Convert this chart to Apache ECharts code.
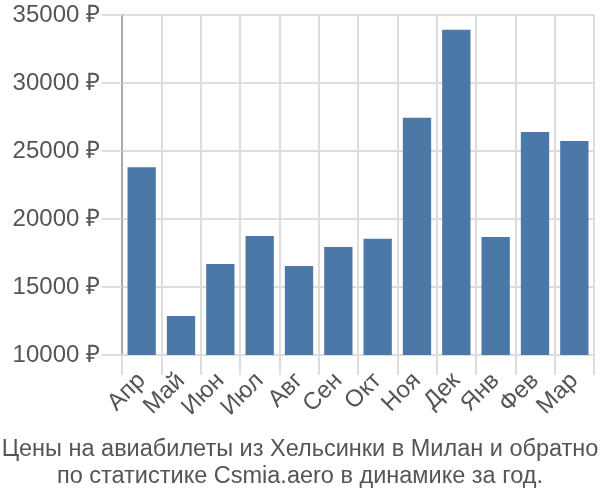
<!DOCTYPE html>
<html><head><meta charset="utf-8">
<script src="https://cdn.jsdelivr.net/npm/echarts@6/dist/echarts.min.js"></script>
<style>html,body{margin:0;padding:0;background:#fff}#c{width:600px;height:500px}</style>
</head><body><div id="c"></div>
<script>
const categories = ["Апр","Май","Июн","Июл","Авг","Сен","Окт","Ноя","Дек","Янв","Фев","Мар"];
const prices = [23800, 12870, 16690, 18750, 16540, 17940, 18550, 27450, 33920, 18680, 26400, 25740];
const yTicks = [10000, 15000, 20000, 25000, 30000, 35000];
const titleLines = ["Цены на авиабилеты из Хельсинки в Милан и обратно", "по статистике Csmia.aero в динамике за год."];

const chart = echarts.init(document.getElementById('c'), null, {renderer: 'canvas'});
chart.setOption({
  animation: false,
  textStyle: {fontFamily: 'Liberation Sans, Arial, sans-serif'},
  title: {
    text: titleLines.join('\n'),
    left: 'center', top: 431,
    textStyle: {fontSize: 23.5, fontWeight: 'normal', color: '#555', lineHeight: 27, fontFamily: 'Liberation Sans, Arial, sans-serif'}
  },
  grid: {left: 122, right: 6, top: 15, bottom: 145, containLabel: false},
  xAxis: {
    type: 'category', data: categories,
    axisLine: {show: true, lineStyle: {color: '#ddd', width: 2}},
    axisTick: {show: true, alignWithLabel: false, length: 20, lineStyle: {color: '#ddd', width: 2}},
    splitLine: {show: true, lineStyle: {color: '#ddd', width: 2}},
    axisLabel: {rotate: 45, interval: 0, fontSize: 24, color: '#555', margin: 22}
  },
  yAxis: {
    type: 'value', min: yTicks[0], max: yTicks[yTicks.length-1], interval: 5000,
    axisLine: {show: true, lineStyle: {color: '#aaa', width: 2}},
    axisTick: {show: true, length: 20, lineStyle: {color: '#ddd', width: 2}},
    splitLine: {show: true, lineStyle: {color: '#ddd', width: 2}},
    axisLabel: {fontSize: 24, color: '#555', margin: 22, formatter: v => v + ' ₽'}
  },
  series: [{
    type: 'bar', data: prices, barCategoryGap: '28%',
    itemStyle: {color: '#4c78a8'}
  }]
});
</script></body></html>
